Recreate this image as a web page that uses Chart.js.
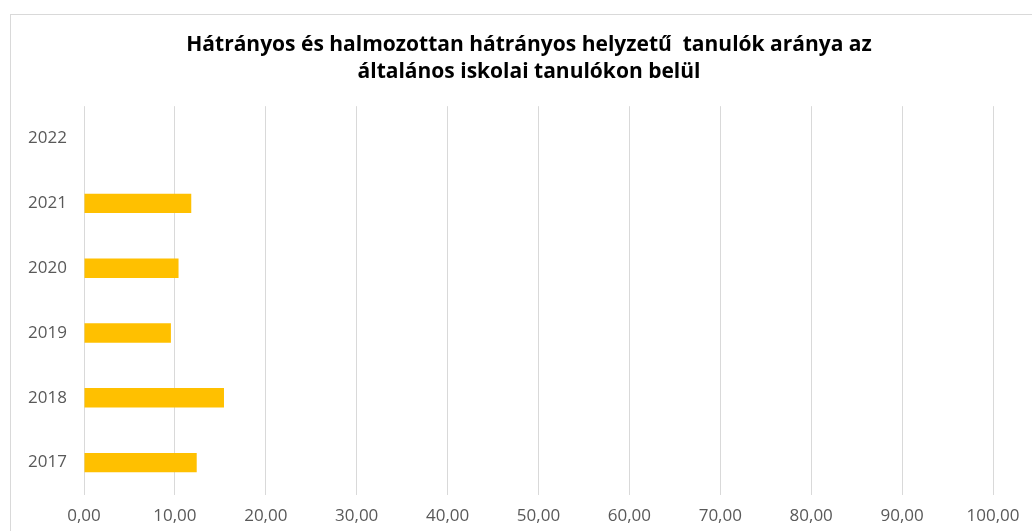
<!DOCTYPE html>
<html>
<head>
<meta charset="utf-8">
<script src="https://cdn.jsdelivr.net/npm/chart.js"></script>
<style>
  html, body { margin: 0; padding: 0; background: #fff; overflow: hidden; width: 1032px; height: 531px; }
  #wrap { position: absolute; left: 10px; top: 14px; width: 1030px; height: 530px; border-left: 1px solid #d9d9d9; border-top: 1px solid #d9d9d9; }
</style>
</head>
<body>
<div id="wrap"><canvas id="chart"></canvas></div>
<script>
// adatok
const years = ['2017', '2018', '2019', '2020', '2021', '2022'];
const ratios = [12.4, 15.4, 9.56, 10.4, 11.8, null];
const titleLines = ['Hátrányos és halmozottan hátrányos helyzetű  tanulók aránya az', 'általános iskolai tanulókon belül'];

const fontFamily = '"Open Sans", Lato, sans-serif';

// tizedes vessző
function formatTick(value) {
    return value.toFixed(2).replace('.', ',');
}

const ctx = document.getElementById('chart').getContext('2d');
new Chart(ctx, {
    type: 'bar',
    data: {
        labels: years,
        datasets: [{
            data: ratios,
            backgroundColor: '#FFC000',
            borderWidth: 0,
            categoryPercentage: 1,
            barPercentage: 0.3
        }]
    },
    options: {
        indexAxis: 'y',
        responsive: true,
        maintainAspectRatio: false,
        animation: false,
        layout: { padding: { left: 6, right: 0, top: 0, bottom: 0 } },
        plugins: {
            legend: { display: false },
            tooltip: { enabled: false },
            title: {
                display: true,
                text: titleLines,
                color: '#000',
                font: { family: fontFamily, size: 21, weight: 'bold', lineHeight: 1.29 },
                padding: { top: 16, bottom: 21 }
            }
        },
        scales: {
            x: {
                min: 0,
                max: 100,
                ticks: {
                    stepSize: 10,
                    color: '#595959',
                    font: { family: fontFamily, size: 17 },
                    padding: 11,
                    callback: formatTick
                },
                grid: { color: '#d9d9d9', drawTicks: false },
                border: { display: false },
                afterFit: scale => { scale.height = 50; }
            },
            y: {
                reverse: true,
                ticks: {
                    color: '#595959',
                    font: { family: fontFamily, size: 17 },
                    padding: 17
                },
                grid: { display: false, drawTicks: false },
                border: { display: false },
                afterFit: scale => { scale.width = 67; }
            },
            // üres jobb oldali tengely a jobb margóhoz
            yRight: {
                type: 'category',
                position: 'right',
                ticks: { display: false },
                grid: { display: false, drawTicks: false },
                border: { display: false },
                afterFit: scale => { scale.width = 48; }
            }
        }
    }
});
</script>
</body>
</html>
